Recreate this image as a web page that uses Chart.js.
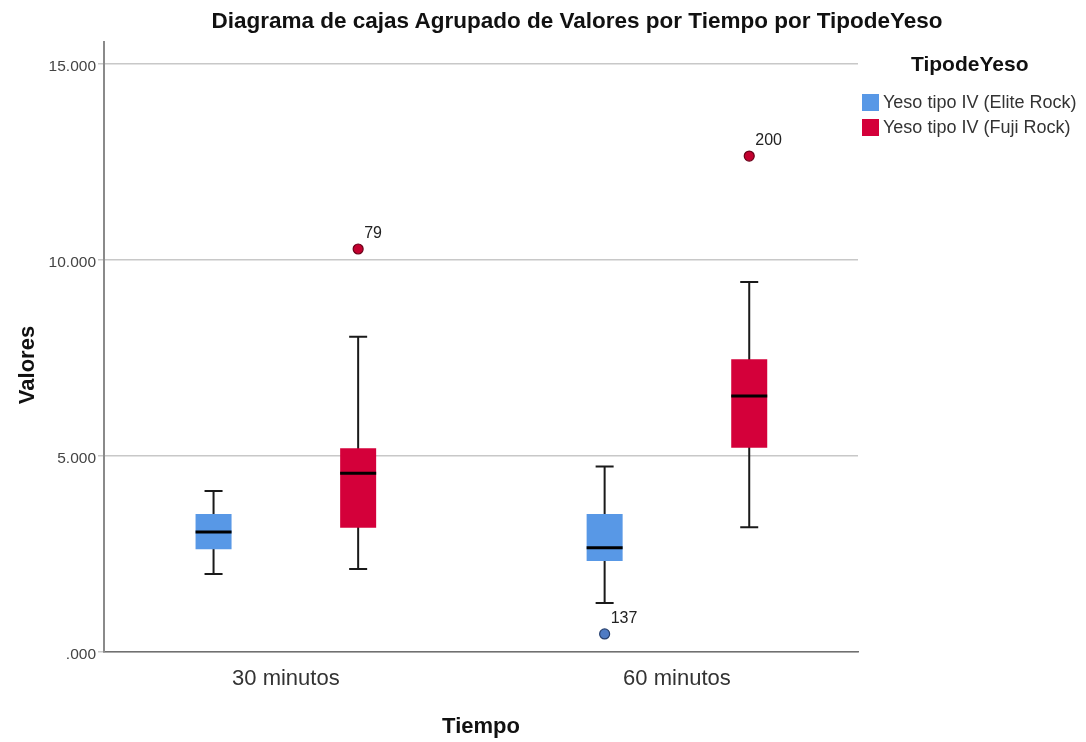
<!DOCTYPE html>
<html lang="es">
<head>
<meta charset="utf-8">
<title>Diagrama de cajas</title>
<script src="https://cdn.jsdelivr.net/npm/chart.js@4.4.1/dist/chart.umd.min.js"></script>
<style>
  html, body { margin:0; padding:0; background:#fff; }
  #marco { position:relative; width:1086px; height:742px; font-family:'Liberation Sans', Arial, sans-serif; }
  #titulo { position:absolute; top:8px; left:0; width:1154px; text-align:center; font-weight:bold; font-size:22.5px; color:#111; white-space:nowrap; }
  #leyenda { position:absolute; left:862px; top:52px; color:#333; }
  #leyenda .tit { font-weight:bold; font-size:21px; color:#111; margin:0 0 14px 49px; }
  #leyenda .item { display:flex; align-items:center; height:25px; font-size:18px; white-space:nowrap; }
  #leyenda .caja { width:17px; height:17px; margin-right:4px; }
</style>
</head>
<body>
<div id="marco">
  <canvas id="graf"></canvas>
  <div id="titulo">Diagrama de cajas Agrupado de Valores por Tiempo por TipodeYeso</div>
  <div id="leyenda"></div>
</div>
<script>
/* ---- datos ---- */
const tiempos = ['30 minutos', '60 minutos'];
const tipos = ['Yeso tipo IV (Elite Rock)', 'Yeso tipo IV (Fuji Rock)'];
const colores = ['#5898E6', '#D4003A'];
const coloresAtipico = ['#4F7BC4', '#C3002F'];
const bordesAtipico = ['#27406F', '#6A0019'];

const eliteMin     = [1.99, 1.25];
const eliteQ1      = [2.62, 2.32];
const eliteMediana = [3.06, 2.66];
const eliteQ3      = [3.52, 3.52];
const eliteMax     = [4.11, 4.73];
const eliteAtipicos = [[], [{valor:0.46, caso:'137'}]];

const fujiMin     = [2.12, 3.18];
const fujiQ1      = [3.17, 5.21];
const fujiMediana = [4.56, 6.53];
const fujiQ3      = [5.20, 7.47];
const fujiMax     = [8.04, 9.44];
const fujiAtipicos = [[{valor:10.28, caso:'79'}], [{valor:12.65, caso:'200'}]];

const yTicks = [0, 5, 10, 15];

const series = [
  {min:eliteMin, q1:eliteQ1, med:eliteMediana, q3:eliteQ3, max:eliteMax, atip:eliteAtipicos},
  {min:fujiMin, q1:fujiQ1, med:fujiMediana, q3:fujiQ3, max:fujiMax, atip:fujiAtipicos}
];

/* bigotes, medianas y atipicos dibujados sobre las escalas del grafico */
const cajasPlugin = {
  id: 'cajas',
  beforeDatasetsDraw(chart){
    const {ctx, scales:{y}} = chart;
    ctx.save();
    ctx.strokeStyle = '#1a1a1a'; ctx.lineWidth = 2;
    series.forEach((s, di) => {
      chart.getDatasetMeta(di).data.forEach((bar, i) => {
        const x = bar.x, c = bar.width / 4;
        const pMin = y.getPixelForValue(s.min[i]), pMax = y.getPixelForValue(s.max[i]);
        ctx.beginPath();
        ctx.moveTo(x, pMin); ctx.lineTo(x, pMax);
        ctx.moveTo(x - c, pMin); ctx.lineTo(x + c, pMin);
        ctx.moveTo(x - c, pMax); ctx.lineTo(x + c, pMax);
        ctx.stroke();
      });
    });
    ctx.restore();
  },
  afterDatasetsDraw(chart){
    const {ctx, scales:{y}} = chart;
    ctx.save();
    series.forEach((s, di) => {
      chart.getDatasetMeta(di).data.forEach((bar, i) => {
        const x = bar.x, w = bar.width;
        const pMed = y.getPixelForValue(s.med[i]);
        ctx.strokeStyle = '#000'; ctx.lineWidth = 3;
        ctx.beginPath(); ctx.moveTo(x - w/2, pMed); ctx.lineTo(x + w/2, pMed); ctx.stroke();
        s.atip[i].forEach(a => {
          const py = y.getPixelForValue(a.valor);
          ctx.beginPath(); ctx.arc(x, py, 5, 0, Math.PI*2);
          ctx.fillStyle = coloresAtipico[di]; ctx.fill();
          ctx.lineWidth = 1.2; ctx.strokeStyle = bordesAtipico[di]; ctx.stroke();
          ctx.fillStyle = '#222';
          ctx.font = "16px 'Liberation Sans', Arial, sans-serif";
          ctx.textAlign = 'left'; ctx.textBaseline = 'middle';
          ctx.fillText(a.caso, x + 6, py - 15);
        });
      });
    });
    ctx.restore();
  },
  afterDraw(chart){
    /* titulo del eje Y, algo por debajo del centro como en el original */
    const {ctx, chartArea} = chart;
    ctx.save();
    ctx.translate(28, (chartArea.top + chartArea.bottom) / 2 + 18);
    ctx.rotate(-Math.PI / 2);
    ctx.fillStyle = '#111';
    ctx.font = "bold 22px 'Liberation Sans', Arial, sans-serif";
    ctx.textAlign = 'center'; ctx.textBaseline = 'middle';
    ctx.fillText('Valores', 0, 0);
    ctx.restore();
  }
};

const ctx = document.getElementById('graf');
Chart.defaults.font.family = "'Liberation Sans', Arial, sans-serif";

const chart = new Chart(ctx, {
  type: 'bar',
  data: {
    datasets: tipos.map((t, di) => ({
      label: t,
      data: tiempos.map((_, i) => ({x: i + 1, y: [series[di].q1[i], series[di].q3[i]]})),
      backgroundColor: colores[di],
      borderWidth: 0,
      borderSkipped: false,
      categoryPercentage: 0.7395,
      barPercentage: 0.249
    }))
  },
  options: {
    responsive: true,
    maintainAspectRatio: false,
    animation: false,
    layout: { padding: {top: 42, right: 228, left: 0, bottom: 0} },
    plugins: { legend: {display: false}, title: {display: false}, tooltip: {enabled: false} },
    scales: {
      x: {
        type: 'linear', min: 0.535, max: 2.463, offset: false,
        afterBuildTicks: s => { s.ticks = tiempos.map((_, i) => ({value: i + 1})); },
        afterFit: s => { s.height = 90; },
        grid: {display: false},
        border: {display: true, color: '#707070', width: 1.5},
        ticks: {
          callback: v => tiempos[v - 1],
          color: '#333', padding: 6,
          font: {size: 22}, maxRotation: 0, autoSkip: false
        },
        title: {display: true, text: 'Tiempo', color: '#111', font: {size: 22, weight: 'bold'}, padding: {top: 0, bottom: 2}}
      },
      y: {
        min: 0, max: 15.56,
        afterBuildTicks: s => { s.ticks = yTicks.map(v => ({value: v})); },
        afterFit: s => { s.width = 104; },
        grid: {color: '#C8C8C8', lineWidth: 1.5, tickLength: 6, drawOnChartArea: true},
        border: {display: true, color: '#8A8A8A', width: 2},
        ticks: {
          callback: v => v === 0 ? '.000' : v.toFixed(3),
          color: '#444', padding: 2, labelOffset: 3, font: {size: 15.5}
        },
        title: {display: false}
      }
    }
  },
  plugins: [cajasPlugin]
});

/* leyenda HTML a partir de los datasets */
const ley = document.getElementById('leyenda');
ley.innerHTML = '<div class="tit">TipodeYeso</div>' + chart.data.datasets.map(d =>
  `<div class="item"><span class="caja" style="background:${d.backgroundColor}"></span>${d.label}</div>`).join('');
</script>
</body>
</html>
